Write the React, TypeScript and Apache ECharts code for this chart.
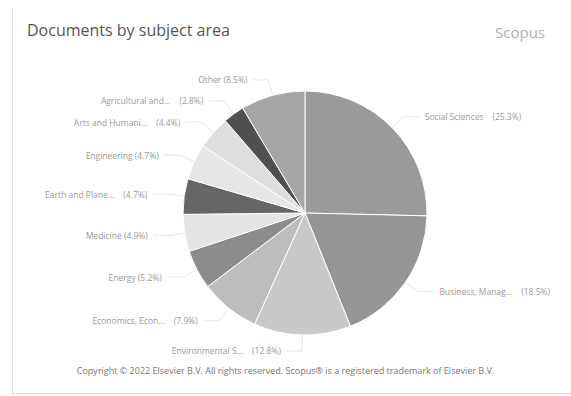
import React, { useEffect, useRef } from "react";
import * as echarts from "echarts";

const categories = [
  "Social Sciences",
  "Business, Manag...",
  "Environmental S...",
  "Economics, Econ...",
  "Energy",
  "Medicine",
  "Earth and Plane...",
  "Engineering",
  "Arts and Humani...",
  "Agricultural and...",
  "Other",
];
const values = [25.3, 18.5, 12.8, 7.9, 5.2, 4.9, 4.7, 4.7, 4.4, 2.8, 8.5];
const colors = [
  "#9a9a9a",
  "#959595",
  "#c9c9c9",
  "#bdbdbd",
  "#8c8c8c",
  "#e4e4e4",
  "#666666",
  "#e6e6e6",
  "#dedede",
  "#505050",
  "#a6a6a6",
];

export default function App() {
  const ref = useRef<HTMLDivElement>(null);
  useEffect(() => {
    document.body.style.margin = "0";
    const chart = echarts.init(ref.current!, undefined, { renderer: "svg" });
    const font = "'Open Sans', 'Noto Sans', sans-serif";
    chart.setOption({
      animation: false,
      backgroundColor: "#fff",
      title: [
        {
          text: "Documents by subject area",
          left: 22,
          top: 17,
          textStyle: { fontFamily: font, fontSize: 16, fontWeight: "normal", color: "#555" },
        },
        {
          text: "Scopus",
          right: 21,
          top: 19,
          textStyle: { fontFamily: font, fontSize: 15, fontWeight: "normal", color: "#b0b0b0" },
        },
        {
          text: "Copyright © 2022 Elsevier B.V. All rights reserved. Scopus® is a registered trademark of Elsevier B.V.",
          left: "center",
          top: 361,
          textStyle: { fontFamily: font, fontSize: 9, fontWeight: "normal", color: "#777" },
        },
      ],
      graphic: [
        {
          type: "line",
          shape: { x1: 12.5, y1: 8, x2: 12.5, y2: 393 },
          style: { stroke: "#d8d8d8", lineWidth: 1, lineDash: [2, 1] },
        },
        {
          type: "line",
          shape: { x1: 12, y1: 393.5, x2: 571, y2: 393.5 },
          style: { stroke: "#cfcfcf", lineWidth: 1, lineDash: [3, 1] },
        },
      ],
      series: [
        {
          type: "pie",
          center: [305, 213],
          radius: 122,
          startAngle: 90,
          clockwise: true,
          minAngle: 0,
          avoidLabelOverlap: true,
          itemStyle: { borderColor: "#fff", borderWidth: 1 },
          label: {
            fontFamily: font,
            fontSize: 8.5,
            color: "#9a9a9a",
            formatter: (p: any) =>
              p.name.length > 12 ? `${p.name}    (${p.value}%)` : `${p.name} (${p.value}%)`,
          },
          labelLine: {
            length: 16,
            length2: 16,
            lineStyle: { color: "#cccccc", width: 1, type: "dotted" },
          },
          data: categories.map((c, i) => ({
            name: c,
            value: values[i],
            itemStyle: { color: colors[i] },
          })),
        },
      ],
    });
    return () => chart.dispose();
  }, []);
  return <div ref={ref} style={{ width: 571, height: 396, position: "absolute", left: 0, top: 0 }} />;
}
